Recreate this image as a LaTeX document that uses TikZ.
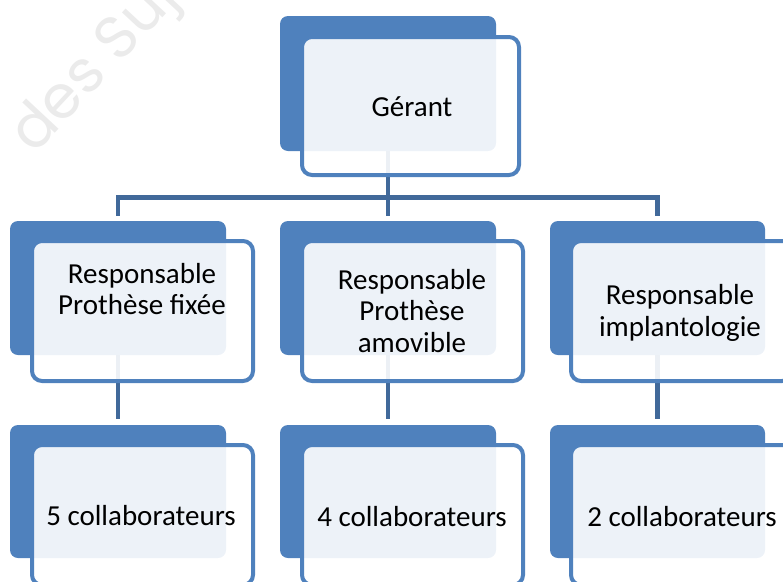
\documentclass[tikz,border=0pt]{standalone}
\usepackage{fontspec}
\setmainfont{Carlito}
\newfontfamily\wmfont{Poppins}
\usetikzlibrary{positioning}
\pgfdeclarelayer{bg}
\pgfdeclarelayer{wm}
\pgfsetlayers{wm,bg,main}
\definecolor{accent}{HTML}{4F81BD}
\definecolor{conncol}{HTML}{41699A}
\definecolor{wmgray}{HTML}{EBEBEB}
\tikzset{
  backbox/.style={fill=accent, draw=none, rounded corners=8pt, inner sep=0pt,
    minimum width=216pt, minimum height=134pt},
  frontbox/.style={draw=accent, line width=4pt, fill=white, fill opacity=0.9,
    rounded corners=10pt, inner sep=0pt, minimum width=221pt, minimum height=140pt},
  label/.style={text=black, align=center, inner sep=0pt,
    font=\fontsize{29}{31.5}\selectfont},
  conn/.style={draw=conncol, line width=4.5pt},
}
\begin{document}
\begin{tikzpicture}[x=1pt,y=-1pt]
\useasboundingbox (0,0) rectangle (783,581);
% watermark
\begin{pgfonlayer}{wm}
\node[anchor=base west, rotate=47, text=wmgray, inner sep=0pt,
  font=\wmfont\fontsize{60}{60}\selectfont] (wm) at (34,156) {des Suje};
\end{pgfonlayer}
% top
\node[backbox, minimum height=135pt] (gb) at (388,83.5) {};
\node[frontbox, minimum width=217pt, minimum height=138pt] (gf) at (410.5,106) {};
\node[label] (gt) at (412,107) {Gérant};
% row 2
\node[backbox] (b1) at (118,288) {};
\node[backbox] (b2) at (388,288) {};
\node[backbox, minimum width=215pt] (b3) at (657.5,288) {};
\node[frontbox] (f1) at (142.5,311) {};
\node[frontbox] (f2) at (412.5,311) {};
\node[frontbox] (f3) at (681.5,311) {};
\node[label] (t1) at (142,289) {Responsable\\Prothèse fixée};
\node[label] (t2) at (412,311) {Responsable\\Prothèse\\amovible};
\node[label] (t3) at (680,313) {Responsable\\implantologie};
% row 3
\node[backbox, minimum height=133pt] (c1) at (118,491.5) {};
\node[backbox, minimum height=133pt] (c2) at (388,491.5) {};
\node[backbox, minimum height=133pt, minimum width=215pt] (c3) at (657.5,491.5) {};
\node[frontbox] (g1) at (142.5,515) {};
\node[frontbox] (g2) at (412.5,515) {};
\node[frontbox] (g3) at (681.5,515) {};
\node[label] (u1) at (141,516) {5 collaborateurs};
\node[label] (u2) at (412,517) {4 collaborateurs};
\node[label] (u3) at (682,517) {2 collaborateurs};
% connectors
\coordinate (bar) at (388,197.5);
\begin{pgfonlayer}{bg}
\draw[conn] ([yshift=5pt]b1.north) -- (b1.north |- bar) -- (b3.north |- bar) -- ([yshift=5pt]b3.north);
\draw[conn] (gb.center) -- ([yshift=5pt]b2.north);
\draw[conn] (b1.center) -- ([yshift=6pt]c1.north);
\draw[conn] (b2.center) -- ([yshift=6pt]c2.north);
\draw[conn] (b3.center) -- ([yshift=6pt]c3.north);
\end{pgfonlayer}
\end{tikzpicture}
\end{document}
